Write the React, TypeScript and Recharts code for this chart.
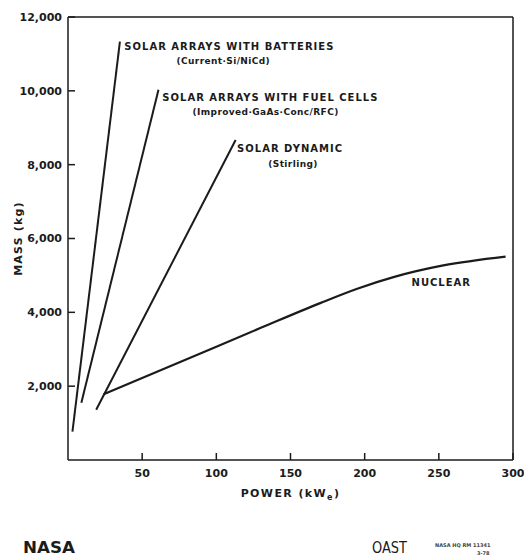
import { LineChart, Line, XAxis, YAxis, ReferenceDot } from "recharts";

// axis ticks
const powerTicks = [50, 100, 150, 200, 250, 300];
const massTicks = [2000, 4000, 6000, 8000, 10000, 12000];
const powerTicksTop = [50, 100, 150, 200, 250];
const massTicksRight = [2000, 4000, 6000, 8000, 10000];

// series (power kWe -> mass kg)
const batteryPower = [3, 35];
const batteryMass = [770, 11330];

const fuelCellPower = [9, 61];
const fuelCellMass = [1550, 10030];

const dynamicPower = [19, 113];
const dynamicMass = [1360, 8670];

const nuclearPower = [24, 80, 130, 170, 195, 220, 253, 295];
const nuclearMass = [1780, 2730, 3580, 4250, 4640, 4960, 5270, 5510];

const toPoints = (xs: number[], ys: number[]) => xs.map((x, i) => ({ power: x, mass: ys[i] }));

const FONT = '"DejaVu Sans", Verdana, sans-serif';
const INK = "#1b1b1b";

// curve annotations, anchored in data units
const curveLabels = [
  { x: 38, y: 11190, text: "SOLAR ARRAYS WITH BATTERIES", anchor: "start", size: 10, main: true },
  { x: 104.7, y: 10800, text: "(Current·Si/NiCd)", anchor: "middle", size: 9, main: false },
  { x: 63.6, y: 9810, text: "SOLAR ARRAYS WITH FUEL CELLS", anchor: "start", size: 10, main: true },
  { x: 133.2, y: 9430, text: "(Improved·GaAs·Conc/RFC)", anchor: "middle", size: 9, main: false },
  { x: 114, y: 8430, text: "SOLAR DYNAMIC", anchor: "start", size: 10, main: true },
  { x: 151.7, y: 8020, text: "(Stirling)", anchor: "middle", size: 9, main: false },
  { x: 231.6, y: 4800, text: "NUCLEAR", anchor: "start", size: 10, main: true },
];

const PowerTitle = ({ viewBox }: any) => (
  <text
    x={viewBox.x + viewBox.width / 2}
    y={viewBox.y + 37}
    textAnchor="middle"
    fontFamily={FONT}
    fontWeight="bold"
    fontSize={11}
    letterSpacing={1.4}
    fill={INK}
  >
    POWER (kW
    <tspan fontSize={8} dy={3}>e</tspan>
    <tspan dy={-3}>)</tspan>
  </text>
);

const MassTitle = ({ viewBox }: any) => {
  const cx = viewBox.x + 10;
  const cy = viewBox.y + viewBox.height / 2;
  return (
    <text
      x={cx}
      y={cy}
      transform={`rotate(-90 ${cx} ${cy})`}
      textAnchor="middle"
      dominantBaseline="central"
      fontFamily={FONT}
      fontWeight="bold"
      fontSize={11}
      letterSpacing={1.2}
      fill={INK}
    >
      MASS (kg)
    </text>
  );
};

const tickStyle = { fill: INK, fontSize: 11, fontWeight: "bold", fontFamily: FONT };
const lineStyle = { stroke: INK, strokeWidth: 1.5 };

export default function App() {
  return (
    <div style={{ position: "absolute", left: 0, top: 0, width: 524, height: 559, background: "#fff" }}>
      <LineChart width={524} height={559} margin={{ top: 16, right: 10, bottom: 59, left: 8 }}>
        <XAxis
          dataKey="power"
          type="number"
          domain={[0, 300]}
          ticks={powerTicks}
          interval={0}
          allowDataOverflow
          height={40}
          tickSize={-7}
          tickMargin={16}
          axisLine={lineStyle}
          tickLine={lineStyle}
          tick={tickStyle}
          label={{ content: PowerTitle }}
        />
        <XAxis
          xAxisId="top"
          orientation="top"
          type="number"
          domain={[0, 300]}
          ticks={powerTicksTop}
          interval={0}
          height={1}
          tickSize={-7}
          axisLine={lineStyle}
          tickLine={lineStyle}
          tickFormatter={() => ""}
        />
        <YAxis
          type="number"
          domain={[0, 12000]}
          ticks={massTicks}
          interval={0}
          allowDataOverflow
          width={60}
          tickSize={-7}
          tickMargin={13}
          axisLine={lineStyle}
          tickLine={lineStyle}
          tick={tickStyle}
          tickFormatter={(v: number) => v.toLocaleString("en-US")}
          label={{ content: MassTitle }}
        />
        <YAxis
          yAxisId="right"
          orientation="right"
          type="number"
          domain={[0, 12000]}
          ticks={massTicksRight}
          interval={0}
          width={1}
          tickSize={-7}
          axisLine={lineStyle}
          tickLine={lineStyle}
          tickFormatter={() => ""}
        />
        <Line data={toPoints(batteryPower, batteryMass)} dataKey="mass" type="linear" stroke={INK} strokeWidth={2} dot={false} isAnimationActive={false} />
        <Line data={toPoints(fuelCellPower, fuelCellMass)} dataKey="mass" type="linear" stroke={INK} strokeWidth={2} dot={false} isAnimationActive={false} />
        <Line data={toPoints(dynamicPower, dynamicMass)} dataKey="mass" type="linear" stroke={INK} strokeWidth={2} dot={false} isAnimationActive={false} />
        <Line data={toPoints(nuclearPower, nuclearMass)} dataKey="mass" type="monotone" stroke={INK} strokeWidth={2.2} dot={false} isAnimationActive={false} />
        {curveLabels.map((l, i) => (
          <ReferenceDot
            key={i}
            x={l.x}
            y={l.y}
            r={0}
            ifOverflow="visible"
            shape={(p: any) => (
              <text
                x={p.cx}
                y={p.cy}
                textAnchor={l.anchor as any}
                dominantBaseline="central"
                fontFamily={FONT}
                fontWeight="bold"
                fontSize={l.size}
                letterSpacing={l.main ? 1 : 0.4}
                fill={INK}
              >
                {l.text}
              </text>
            )}
          />
        ))}
      </LineChart>
      <svg width={524} height={559} style={{ position: "absolute", left: 0, top: 0, pointerEvents: "none" }}>
        <text x={23} y={553} fontFamily={FONT} fontWeight="bold" fontSize={15} textLength={52} lengthAdjust="spacingAndGlyphs" fill={INK}>
          NASA
        </text>
        <text x={372} y={553} fontFamily={FONT} fontSize={15} textLength={35} lengthAdjust="spacingAndGlyphs" fill={INK}>
          OAST
        </text>
        <text x={435} y={547} fontFamily={FONT} fontWeight="bold" fontSize={5} fill="#444">
          NASA HQ RM 11341
        </text>
        <text x={477} y={555} fontFamily={FONT} fontWeight="bold" fontSize={5} fill="#444">
          3-78
        </text>
      </svg>
    </div>
  );
}
